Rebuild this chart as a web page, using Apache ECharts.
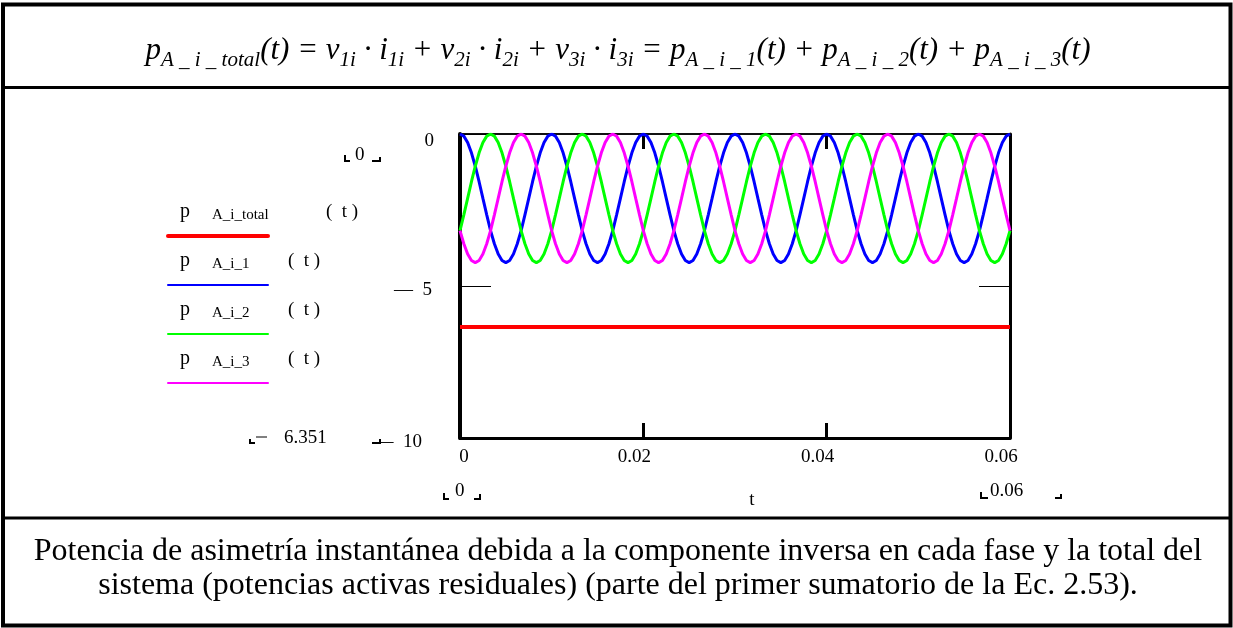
<!DOCTYPE html>
<html>
<head>
<meta charset="utf-8">
<script src="https://cdn.jsdelivr.net/npm/echarts@6/dist/echarts.min.js"></script>
<style>
  html, body { margin: 0; padding: 0; background: #fff; }
  #chart { width: 1233px; height: 628px; }
</style>
</head>
<body>
<div id="chart"></div>
<script>
// Residual active (negative-sequence) instantaneous power per phase and total, 0..0.06 s
const T_END = 0.06;

const pAi1 = [
  0, -0.07, -0.28, -0.62, -1.06, -1.57, -2.12, -2.66, -3.18, -3.61, -3.95, -4.16, -4.23, -4.16, -3.95, -3.61, -3.18, -2.66, -2.12, -1.57, -1.06, -0.62, -0.28, -0.07,
  0, -0.07, -0.28, -0.62, -1.06, -1.57, -2.12, -2.66, -3.18, -3.61, -3.95, -4.16, -4.23, -4.16, -3.95, -3.61, -3.18, -2.66, -2.12, -1.57, -1.06, -0.62, -0.28, -0.07,
  0, -0.07, -0.28, -0.62, -1.06, -1.57, -2.12, -2.66, -3.18, -3.61, -3.95, -4.16, -4.23, -4.16, -3.95, -3.61, -3.18, -2.66, -2.12, -1.57, -1.06, -0.62, -0.28, -0.07,
  0, -0.07, -0.28, -0.62, -1.06, -1.57, -2.12, -2.66, -3.18, -3.61, -3.95, -4.16, -4.23, -4.16, -3.95, -3.61, -3.18, -2.66, -2.12, -1.57, -1.06, -0.62, -0.28, -0.07,
  0, -0.07, -0.28, -0.62, -1.06, -1.57, -2.12, -2.66, -3.18, -3.61, -3.95, -4.16, -4.23, -4.16, -3.95, -3.61, -3.18, -2.66, -2.12, -1.57, -1.06, -0.62, -0.28, -0.07,
  0, -0.07, -0.28, -0.62, -1.06, -1.57, -2.12, -2.66, -3.18, -3.61, -3.95, -4.16, -4.23, -4.16, -3.95, -3.61, -3.18, -2.66, -2.12, -1.57, -1.06, -0.62, -0.28, -0.07,
  0
];

const pAi2 = [
  -3.18, -2.66, -2.12, -1.57, -1.06, -0.62, -0.28, -0.07, 0, -0.07, -0.28, -0.62, -1.06, -1.57, -2.12, -2.66, -3.18, -3.61, -3.95, -4.16, -4.23, -4.16, -3.95, -3.61,
  -3.18, -2.66, -2.12, -1.57, -1.06, -0.62, -0.28, -0.07, 0, -0.07, -0.28, -0.62, -1.06, -1.57, -2.12, -2.66, -3.18, -3.61, -3.95, -4.16, -4.23, -4.16, -3.95, -3.61,
  -3.18, -2.66, -2.12, -1.57, -1.06, -0.62, -0.28, -0.07, 0, -0.07, -0.28, -0.62, -1.06, -1.57, -2.12, -2.66, -3.18, -3.61, -3.95, -4.16, -4.23, -4.16, -3.95, -3.61,
  -3.18, -2.66, -2.12, -1.57, -1.06, -0.62, -0.28, -0.07, 0, -0.07, -0.28, -0.62, -1.06, -1.57, -2.12, -2.66, -3.18, -3.61, -3.95, -4.16, -4.23, -4.16, -3.95, -3.61,
  -3.18, -2.66, -2.12, -1.57, -1.06, -0.62, -0.28, -0.07, 0, -0.07, -0.28, -0.62, -1.06, -1.57, -2.12, -2.66, -3.18, -3.61, -3.95, -4.16, -4.23, -4.16, -3.95, -3.61,
  -3.18, -2.66, -2.12, -1.57, -1.06, -0.62, -0.28, -0.07, 0, -0.07, -0.28, -0.62, -1.06, -1.57, -2.12, -2.66, -3.18, -3.61, -3.95, -4.16, -4.23, -4.16, -3.95, -3.61,
  -3.18
];

const pAi3 = [
  -3.18, -3.61, -3.95, -4.16, -4.23, -4.16, -3.95, -3.61, -3.18, -2.66, -2.12, -1.57, -1.06, -0.62, -0.28, -0.07, 0, -0.07, -0.28, -0.62, -1.06, -1.57, -2.12, -2.66,
  -3.18, -3.61, -3.95, -4.16, -4.23, -4.16, -3.95, -3.61, -3.18, -2.66, -2.12, -1.57, -1.06, -0.62, -0.28, -0.07, 0, -0.07, -0.28, -0.62, -1.06, -1.57, -2.12, -2.66,
  -3.18, -3.61, -3.95, -4.16, -4.23, -4.16, -3.95, -3.61, -3.18, -2.66, -2.12, -1.57, -1.06, -0.62, -0.28, -0.07, 0, -0.07, -0.28, -0.62, -1.06, -1.57, -2.12, -2.66,
  -3.18, -3.61, -3.95, -4.16, -4.23, -4.16, -3.95, -3.61, -3.18, -2.66, -2.12, -1.57, -1.06, -0.62, -0.28, -0.07, 0, -0.07, -0.28, -0.62, -1.06, -1.57, -2.12, -2.66,
  -3.18, -3.61, -3.95, -4.16, -4.23, -4.16, -3.95, -3.61, -3.18, -2.66, -2.12, -1.57, -1.06, -0.62, -0.28, -0.07, 0, -0.07, -0.28, -0.62, -1.06, -1.57, -2.12, -2.66,
  -3.18, -3.61, -3.95, -4.16, -4.23, -4.16, -3.95, -3.61, -3.18, -2.66, -2.12, -1.57, -1.06, -0.62, -0.28, -0.07, 0, -0.07, -0.28, -0.62, -1.06, -1.57, -2.12, -2.66,
  -3.18
];

// total = constant sum of the three phase powers
const pTotal = -6.351;

const xTicks = [0, 0.02, 0.04, 0.06];
const yTicks = [0, -5, -10];

const legendRows = [
  { sub: 'A_i_total', color: '#ff0000', width: 4 },
  { sub: 'A_i_1', color: '#0000ff', width: 2 },
  { sub: 'A_i_2', color: '#00ff00', width: 2 },
  { sub: 'A_i_3', color: '#ff00ff', width: 2 }
];

const caption = [
  'Potencia de asimetría instantánea debida a la componente inversa en cada fase y la total del',
  'sistema (potencias activas residuales) (parte del primer sumatorio de la Ec. 2.53).'
];

const SERIF = '"Liberation Serif", "DejaVu Serif", serif';

const nSamples = pAi1.length;
const time = pAi1.map((_, i) => i * T_END / (nSamples - 1));
const pairs = vals => vals.map((v, i) => [time[i], v]);

const chart = echarts.init(document.getElementById('chart'), null, { renderer: 'canvas' });

function txt(x, y, text, size, extra) {
  return {
    type: 'text', x: x, y: y,
    style: Object.assign({ text: text, font: size + 'px ' + SERIF, fill: '#000',
      textAlign: 'left', textVerticalAlign: 'middle' }, extra || {})
  };
}
function poly(points, w) {
  return { type: 'polyline', shape: { points: points }, style: { stroke: '#000', lineWidth: w || 2, fill: null } };
}

const graphics = [];
// page frame and dividers
graphics.push({ type: 'rect', shape: { x: 3, y: 4.5, width: 1227.5, height: 621 },
  style: { fill: null, stroke: '#000', lineWidth: 4 } });
graphics.push({ type: 'line', shape: { x1: 3, y1: 87.5, x2: 1230, y2: 87.5 }, style: { stroke: '#000', lineWidth: 3 } });
graphics.push({ type: 'line', shape: { x1: 3, y1: 518, x2: 1230, y2: 518 }, style: { stroke: '#000', lineWidth: 3 } });

// equation header
graphics.push({
  type: 'text', x: 618, y: 51,
  style: {
    text: '{m|p}{s|A _ i _ total}{m|(t) = v}{s|1i}{m| · i}{s|1i}{m| + v}{s|2i}{m| · i}{s|2i}{m| + v}{s|3i}{m| · i}{s|3i}{m| = p}{s|A _ i _ 1}{m|(t) + p}{s|A _ i _ 2}{m|(t) + p}{s|A _ i _ 3}{m|(t)}',
    textAlign: 'center', textVerticalAlign: 'middle',
    rich: {
      m: { fontFamily: SERIF, fontStyle: 'italic', fontSize: 31, lineHeight: 44, fill: '#000' },
      s: { fontFamily: SERIF, fontStyle: 'italic', fontSize: 21, lineHeight: 44, padding: [18, 0, 0, 0], fill: '#000' }
    }
  }
});

// caption
graphics.push(txt(618, 552, caption[0], 32, { textAlign: 'center' }));
graphics.push(txt(618, 586, caption[1], 32, { textAlign: 'center' }));

// legend block
const legendTop = 212, legendStep = 49;
legendRows.forEach((r, i) => {
  const y = legendTop + i * legendStep;
  graphics.push(txt(180, y, 'p', 20));
  graphics.push(txt(212, y + 3, r.sub, 15));
  graphics.push(txt(i === 0 ? 326 : 288, y, '(  t )', 19));
  graphics.push({ type: 'line', shape: { x1: 168, y1: y + 24, x2: 268, y2: y + 24 },
    style: { stroke: r.color, lineWidth: r.width, lineCap: 'round' } });
});

// range placeholders around the plot
graphics.push(poly([[345, 155], [345, 161], [350, 161]]));
graphics.push(txt(355, 155, '0', 19));
graphics.push(poly([[372, 161], [380, 161], [380, 157]]));

graphics.push(poly([[250, 439], [250, 443], [255, 443]]));
graphics.push({ type: 'line', shape: { x1: 256, y1: 437, x2: 267, y2: 437 }, style: { stroke: '#000', lineWidth: 1 } });
graphics.push(txt(284, 438, '6.351', 19));

graphics.push(poly([[372, 443], [380, 443], [380, 439]]));

graphics.push(poly([[444, 493], [444, 499], [449, 499]]));
graphics.push(txt(455, 491, '0', 19));
graphics.push(poly([[474, 499], [480, 499], [480, 494]]));

graphics.push(poly([[981, 492], [981, 498], [988, 498]]));
graphics.push(txt(990, 491, '0.06', 19));
graphics.push(poly([[1055, 498], [1061, 498], [1061, 494]]));

const labelFont = { fontFamily: SERIF, fontSize: 19, color: '#000' };

const option = {
  animation: false,
  backgroundColor: '#fff',
  grid: { left: 460, right: 223, top: 134, bottom: 190, containLabel: false },
  xAxis: [
    {
      type: 'value', min: xTicks[0], max: xTicks[xTicks.length - 1], interval: 0.02,
      position: 'bottom',
      name: 't', nameLocation: 'middle', nameGap: 53,
      nameTextStyle: Object.assign({}, labelFont, { padding: [0, 0, 0, 34] }),
      axisLine: { onZero: false, lineStyle: { color: '#000', width: 3 } },
      axisTick: { inside: true, length: 15, lineStyle: { color: '#000', width: 3 } },
      splitLine: { show: false },
      axisLabel: Object.assign({}, labelFont, {
        margin: 10,
        formatter: v => (v === 0 ? '{z|0}' : '{n|' + v.toFixed(2) + '}'),
        rich: {
          z: Object.assign({}, labelFont, { padding: [0, 0, 0, 8] }),
          n: Object.assign({}, labelFont, { padding: [0, 18, 0, 0] })
        }
      })
    },
    {
      type: 'value', min: xTicks[0], max: xTicks[xTicks.length - 1], interval: 0.02,
      position: 'top',
      axisLine: { onZero: false, lineStyle: { color: '#111', width: 2 } },
      axisTick: { inside: true, length: 15, lineStyle: { color: '#000', width: 3 } },
      axisLabel: { show: false },
      splitLine: { show: false }
    }
  ],
  yAxis: [
    {
      type: 'value', min: yTicks[yTicks.length - 1], max: yTicks[0], interval: 5,
      position: 'left',
      axisLine: { onZero: false, lineStyle: { color: '#000', width: 4 } },
      axisTick: { inside: true, length: 31, lineStyle: { color: '#000', width: 1 } },
      splitLine: { show: false },
      axisLabel: Object.assign({}, labelFont, {
        margin: 26,
        formatter: v => {
          if (v === 0) return '{top|0}';
          if (v === -5) return '{m5|—  5}';
          return '{m10|—  10}';
        },
        rich: {
          top: Object.assign({}, labelFont, { padding: [14, 0, 0, 0] }),
          m5: Object.assign({}, labelFont, { padding: [8, 2, 0, 0] }),
          m10: Object.assign({}, labelFont, { padding: [8, 12, 0, 0] })
        }
      })
    },
    {
      type: 'value', min: yTicks[yTicks.length - 1], max: yTicks[0], interval: 5,
      position: 'right',
      axisLine: { onZero: false, lineStyle: { color: '#000', width: 3 } },
      axisTick: { inside: true, length: 31, lineStyle: { color: '#000', width: 1 } },
      axisLabel: { show: false },
      splitLine: { show: false }
    }
  ],
  series: [
    {
      name: 'p_A_i_total', type: 'line', showSymbol: false,
      data: [[time[0], pTotal], [time[nSamples - 1], pTotal]],
      lineStyle: { color: '#ff0000', width: 4 }, z: 3
    },
    {
      name: 'p_A_i_1', type: 'line', showSymbol: false, data: pairs(pAi1),
      lineStyle: { color: '#0000ff', width: 3 }, z: 3
    },
    {
      name: 'p_A_i_2', type: 'line', showSymbol: false, data: pairs(pAi2),
      lineStyle: { color: '#00ff00', width: 3 }, z: 3
    },
    {
      name: 'p_A_i_3', type: 'line', showSymbol: false, data: pairs(pAi3),
      lineStyle: { color: '#ff00ff', width: 3 }, z: 3
    }
  ],
  graphic: graphics
};

chart.setOption(option);
</script>
</body>
</html>
